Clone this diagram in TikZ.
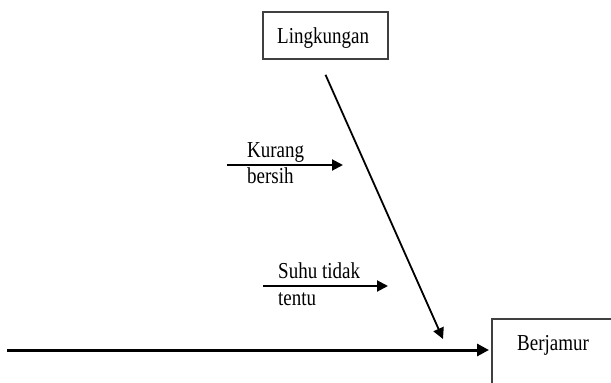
\documentclass[tikz,border=0pt]{standalone}
\usepackage{fontspec}
\setmainfont{Liberation Serif}
\usetikzlibrary{arrows.meta,calc}
\newcommand{\tallword}[1]{\scalebox{1}[1.2]{#1}}
\tikzset{
  causebox/.style={draw=black!75, line width=1.5pt, rectangle, inner sep=0pt},
  lbl/.style={inner sep=0pt, font=\fontsize{19}{26}\selectfont, align=left},
  spine/.style={line width=3pt, -{Triangle[length=12pt,width=12pt]}},
  bone/.style={line width=2pt, -{Triangle[length=11pt,width=11pt]}},
}
\begin{document}
\begin{tikzpicture}[x=1pt, y=-1pt]
  \useasboundingbox (0,0) rectangle (611,383);
  \clip (0,0) rectangle (611,383);
  % category box at the top
  \node[causebox, minimum width=125pt, minimum height=47pt] (env) at (325.5,35.5) {};
  \node[lbl, anchor=base west] (envtext) at (277,43) {\tallword{Lingkungan}};
  % effect box, running off the page edge
  \node[causebox, anchor=north west, minimum width=200pt, minimum height=120pt] (effect) at (491,318) {};
  \node[lbl, anchor=base west] (effecttext) at (517,350) {\tallword{Berjamur}};
  % main spine
  \coordinate (spinetail) at (7,350);
  \draw[spine, shorten >=2pt] (spinetail) -- (spinetail -| effect.west);
  % diagonal bone from the category
  \coordinate (envtip) at (443,339);
  \draw[bone, line width=1.8pt] ($(env.south)+(0,15)$) -- (envtip);
  % sub-causes
  \coordinate (c1tail) at (227,165);
  \coordinate (c1head) at (343,165);
  \draw[bone] (c1tail) -- (c1head);
  \node[lbl, anchor=base west] (c1text) at (247,157) {\tallword{Kurang}};
  \node[lbl, anchor=base west] (c1text2) at (247,183) {\tallword{bersih}};
  \coordinate (c2tail) at (263,286);
  \coordinate (c2head) at (388,286);
  \draw[bone] (c2tail) -- (c2head);
  \node[lbl, anchor=base west] (c2text) at (278,278) {\tallword{Suhu tidak}};
  \node[lbl, anchor=base west] (c2text2) at (278,305) {\tallword{tentu}};
\end{tikzpicture}
\end{document}
